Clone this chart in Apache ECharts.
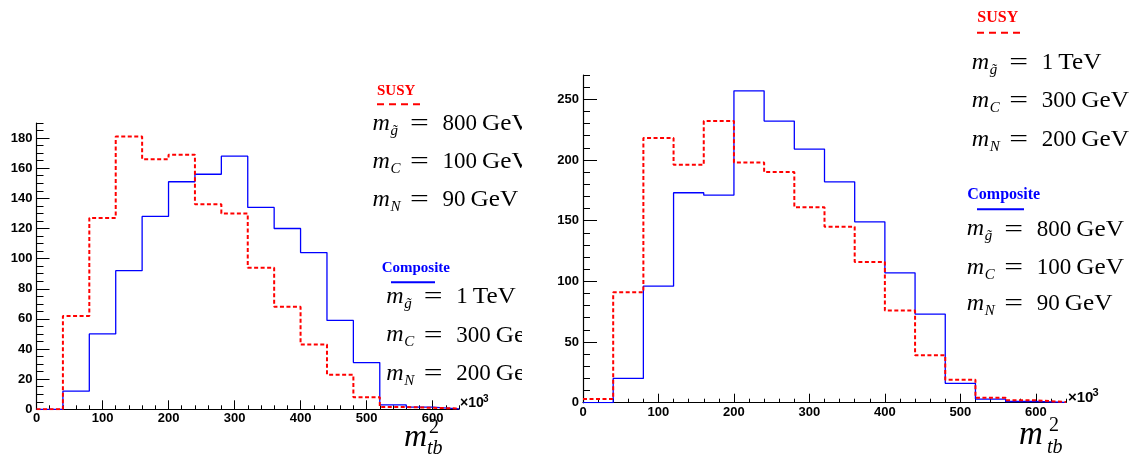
<!DOCTYPE html>
<html><head><meta charset="utf-8">
<script src="https://cdn.jsdelivr.net/npm/echarts@6/dist/echarts.min.js"></script>
<style>html,body{margin:0;padding:0;background:#fff}#c{width:1136px;height:454px}</style>
</head><body><div id="c"></div>
<script>
// ---- data ----
const binEdges = [0,40,80,120,160,200,240,280,320,360,400,440,480,520,560,600,640];
const susyLeft  = [0,62,127,181,166,169,136,130,94,68,43,23,8,1.5,1,0.5];
const compLeft  = [0,12,50,92,128,151,156,168,134,120,104,59,31,3,1.5,0.3];
const susyRight = [3,91,218,196,232,198,190,161,145,116,76,39,19,4,2,0.5];
const compRight = [0,20,96,173,171,257,232,209,182,149,107,73,16,3,1,0.3];
const xTicks = [0,100,200,300,400,500,600];
const yTicksLeft = [0,20,40,60,80,100,120,140,160,180];
const yTicksRight = [0,50,100,150,200,250];
const legendTitles = ['SUSY','Composite'];
const paramsLeftSusy  = [['g\u0303','800','GeV'],['C','100','GeV'],['N','90','GeV']];
const paramsLeftComp  = [['g\u0303','1','TeV'],['C','300','GeV'],['N','200','GeV']];
const paramsRightSusy = [['g\u0303','1','TeV'],['C','300','GeV'],['N','200','GeV']];
const paramsRightComp = [['g\u0303','800','GeV'],['C','100','GeV'],['N','90','GeV']];

// ---- helpers ----
function hist(vals){
  const pts = vals.map((v,i)=>[binEdges[i], v]);
  pts.push([binEdges[binEdges.length-1], vals[vals.length-1]]);
  return pts;
}
const RED='#ff0000', BLUE='#0000ff';
const SERIF='Liberation Serif', SANS='Liberation Sans';
function txt(x, baseline, text, size, opt){
  opt = opt || {};
  const fam = opt.family || SERIF;
  const k = fam===SANS ? 0.35 : 0.34;
  return {type:'text', x:x, y:baseline - k*size, scaleX:opt.scaleX||1, z:50,
    style:{text:text, fontSize:size, fontFamily:fam, fontStyle:opt.italic?'italic':'normal',
      fontWeight:opt.bold?'bold':'normal', fill:opt.color||'#000',
      align:'left', verticalAlign:'middle', textAlign:'left', textVerticalAlign:'middle'}};
}
function mathRows(x0, baselines, rows){
  const out=[];
  rows.forEach((r,i)=>{
    const b = baselines[i];
    out.push(txt(x0-0.5, b, 'm', 24, {italic:true}));
    out.push(txt(x0+17.5, b+4, r[0], 15, {italic:true}));
    out.push(txt(x0+37, b, '=', 23, {scaleX:1.45}));
    out.push(txt(x0+69.5, b, r[1], 23));
    out.push(txt(x0+69.5 + r[1].length*11.5 + 5, b, r[2], 23, {scaleX:1.1}));
  });
  return out;
}
function legendBlock(x, cy, title, size, color, lx1, lx2, ly, dashed){
  return [
    {type:'text', x:x, y:cy, z:50, style:{text:title, fontSize:size, fontFamily:SERIF, fontWeight:'bold', fill:color,
      align:'left', verticalAlign:'middle', textAlign:'left', textVerticalAlign:'middle'}},
    {type:'line', z:50, shape:{x1:lx1, y1:ly, x2:lx2, y2:ly}, style:{stroke:color, lineWidth:2, lineDash: dashed?[7,5]:null}}
  ];
}

const graphics = [].concat(
  legendBlock(377, 91, legendTitles[0], 15, RED, 377, 422, 104.3, true),
  mathRows(373, [131.7,170,207.7], paramsLeftSusy),
  legendBlock(381.7, 268, legendTitles[1], 15, BLUE, 391, 435, 282.3, false),
  mathRows(386.7, [305,343.3,381.7], paramsLeftComp),
  [{type:'rect', z:100, shape:{x:522, y:80, width:30, height:315}, style:{fill:'#fff'}}],
  legendBlock(977.3, 17.5, legendTitles[0], 16, RED, 977, 1024, 32.7, true),
  mathRows(972.3, [70.7,109,147.7], paramsRightSusy),
  legendBlock(967.3, 195, legendTitles[1], 16, BLUE, 977, 1024, 209.3, false),
  mathRows(967.3, [237.3,275.7,311.7], paramsRightComp),
  // axis titles
  [txt(404, 448, 'm', 32, {italic:true}), txt(429, 435, '2', 20), txt(427, 456, 'tb', 20, {italic:true}),
   txt(1019, 447, 'm', 33, {italic:true}), txt(1049, 433, '2', 20), txt(1047, 455, 'tb', 20, {italic:true}),
   txt(460, 408.5, '\u00d710', 14, {family:SANS, bold:true}), txt(483, 403, '3', 10, {family:SANS, bold:true}),
   txt(1068, 403.5, '\u00d710', 15, {family:SANS, bold:true}), txt(1092.5, 397, '3', 11, {family:SANS, bold:true})]
);

function minorX(g){ return {gridIndex:g, type:'value', min:0, max:640, interval:20, position:'bottom',
  axisLine:{show:true,onZero:false,lineStyle:{color:'#000',width:1.2}},
  axisTick:{show:true,inside:true,length:4,lineStyle:{color:'#000'}},
  axisLabel:{show:false}, splitLine:{show:false}}; }
function majorX(g){ return {gridIndex:g, type:'value', min:0, max:640, interval:20, position:'bottom',
  axisLine:{show:false,onZero:false},
  axisTick:{show:true,inside:true,length:9,customValues:xTicks,lineStyle:{color:'#000'}},
  axisLabel:{show:true,customValues:xTicks,fontFamily:SANS,fontWeight:'bold',fontSize:13,color:'#000',margin:3},
  splitLine:{show:false}}; }
function minorY(g,max,step,len){ return {gridIndex:g, type:'value', min:0, max:max, interval:step, position:'left',
  axisLine:{show:true,onZero:false,lineStyle:{color:'#000',width:1.2}},
  axisTick:{show:true,inside:true,length:len,lineStyle:{color:'#000'}},
  axisLabel:{show:false}, splitLine:{show:false}}; }
function majorY(g,max,step,ticks,len){ return {gridIndex:g, type:'value', min:0, max:max, interval:step, position:'left',
  axisLine:{show:false,onZero:false},
  axisTick:{show:true,inside:true,length:len,customValues:ticks,lineStyle:{color:'#000'}},
  axisLabel:{show:true,customValues:ticks,fontFamily:SANS,fontWeight:'bold',fontSize:13,color:'#000',margin:4},
  splitLine:{show:false}}; }

function line(xi, yi, vals, color, dashed){
  return {type:'line', xAxisIndex:xi, yAxisIndex:yi, data:hist(vals), step:'end', symbol:'none',
    silent:true, animation:false, z: dashed?4:3,
    lineStyle:{color:color, width: dashed?2:1.3, type: dashed?[4,2.5]:'solid'}};
}

const chart = echarts.init(document.getElementById('c'), null, {renderer:'canvas'});
chart.setOption({
  backgroundColor:'#fff',
  animation:false,
  grid:[{left:36.5, top:123, width:422.5, height:286.3},
        {left:583, top:75, width:483, height:327.7}],
  xAxis:[minorX(0), majorX(0), minorX(1), majorX(1)],
  yAxis:[minorY(0,190,5,7), majorY(0,190,5,yTicksLeft,13), minorY(1,270,10,7), majorY(1,270,10,yTicksRight,14)],
  series:[
    line(0,0,compLeft,BLUE,false),
    line(0,0,susyLeft,RED,true),
    line(2,2,compRight,BLUE,false),
    line(2,2,susyRight,RED,true)
  ],
  graphic: graphics
});
</script></body></html>
